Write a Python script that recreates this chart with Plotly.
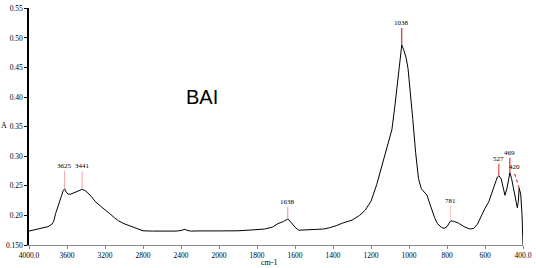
import numpy as np
import plotly.graph_objects as go

# Spectrum (wavenumber cm-1, absorbance)
wavenumber = [4000, 3900, 3800, 3760, 3740, 3720, 3700, 3680, 3660, 3640, 3625, 3610, 3590, 3560,
              3520, 3480, 3441, 3410, 3380, 3340, 3300, 3250, 3200, 3150, 3100, 3060, 3000, 2950,
              2900, 2850, 2800, 2700, 2600, 2500, 2450, 2400, 2360, 2340, 2300, 2200, 2100, 2000,
              1900, 1800, 1760, 1720, 1690, 1660, 1638, 1620, 1600, 1580, 1560, 1520, 1480, 1450,
              1420, 1380, 1350, 1300, 1260, 1230, 1200, 1170, 1140, 1110, 1090, 1075, 1060, 1048,
              1038, 1028, 1015, 1005, 995, 980, 965, 950, 935, 920, 905, 895, 880, 865, 850, 830,
              815, 800, 781, 765, 740, 710, 680, 660, 640, 620, 600, 580, 560, 545, 535, 527, 515,
              505, 495, 485, 475, 469, 460, 450, 440, 430, 425, 420, 412, 405, 400]
absorbance = [0.1735, 0.177, 0.181, 0.185, 0.190, 0.203, 0.214, 0.225, 0.232, 0.242, 0.245, 0.240,
              0.236, 0.236, 0.239, 0.242, 0.244, 0.242, 0.238, 0.231, 0.223, 0.216, 0.210, 0.203,
              0.196, 0.191, 0.186, 0.183, 0.179, 0.176, 0.174, 0.1735, 0.1732, 0.1738, 0.1735,
              0.1745, 0.1765, 0.175, 0.1735, 0.1738, 0.1735, 0.1738, 0.174, 0.176, 0.177, 0.180,
              0.186, 0.190, 0.194, 0.188, 0.180, 0.175, 0.1755, 0.176, 0.1765, 0.177, 0.179,
              0.183, 0.187, 0.192, 0.200, 0.209, 0.224, 0.252, 0.288, 0.322, 0.345, 0.383, 0.430,
              0.468, 0.488, 0.480, 0.466, 0.448, 0.416, 0.362, 0.306, 0.262, 0.245, 0.240, 0.234,
              0.224, 0.208, 0.196, 0.186, 0.180, 0.178, 0.181, 0.191, 0.190, 0.187, 0.181, 0.177,
              0.178, 0.185, 0.200, 0.212, 0.223, 0.242, 0.258, 0.265, 0.267, 0.262, 0.248, 0.234,
              0.245, 0.260, 0.272, 0.262, 0.244, 0.224, 0.213, 0.222, 0.246, 0.236, 0.200, 0.150]

# Peak labels
peaks = [3625, 3441, 1638, 1038, 781, 527, 469, 420]
peak_colors = ["#f4a6a6", "#f4a6a6", "#f08a8a", "#d40000", "#f8c4c4", "#e02020", "#e00000", "#e00000"]
peak_dx = [0, 0, 0, 0, 0, 0, 0, -5]
peak_dy = [18, 18, 12, 17, 15, 12, 15, 16]
peak_dash = ["solid"] * 7 + ["dot"]

x_ticks_hi = [4000, 3600, 3200, 2800, 2400]
x_ticks_hi_text = ["4000.0", "3600", "3200", "2800", "2400"]
x_ticks_lo = [2000, 1800, 1600, 1400, 1200, 1000, 800, 600, 400]
x_ticks_lo_text = ["2000", "1800", "1600", "1400", "1200", "1000", "800", "600", "400.0"]
y_ticks = [0.15, 0.20, 0.25, 0.30, 0.35, 0.40, 0.45, 0.50, 0.55]
y_ticks_text = ["0.150", "0.20", "0.25", "0.30", "0.35", "0.40", "0.45", "0.50", "0.55"]

SERIF = "Liberation Serif, Times New Roman, serif"

wn = np.array(wavenumber, dtype=float)
ab = np.array(absorbance, dtype=float)
hi = wn >= 2000
lo = wn <= 2000

split = 2000.0 / 5200.0
fig = go.Figure()
fig.add_trace(go.Scatter(x=wn[hi], y=ab[hi], mode="lines", line=dict(color="black", width=1),
                         xaxis="x", yaxis="y", showlegend=False))
fig.add_trace(go.Scatter(x=wn[lo], y=ab[lo], mode="lines", line=dict(color="black", width=1),
                         xaxis="x2", yaxis="y", showlegend=False))

tickfont = dict(family=SERIF, size=7.5, color="black")
order = np.argsort(wn)
for p, c, dx, dy, dash in zip(peaks, peak_colors, peak_dx, peak_dy, peak_dash):
    a = float(np.interp(p, wn[order], ab[order]))
    xr = "x" if p > 2000 else "x2"
    fig.add_shape(type="line", xref=xr, yref="y", xsizemode="pixel", ysizemode="pixel",
                  xanchor=p, yanchor=a, x0=0, y0=0, x1=dx, y1=dy,
                  line=dict(color=c, width=1, dash=dash))
    fig.add_annotation(x=p, y=a, xref=xr, yref="y", text=str(p), showarrow=False,
                       xshift=dx, yshift=dy + 5, font=dict(family=SERIF, size=7, color="black"))

fig.add_annotation(x=0.486, y=-0.1, xref="paper", yref="paper", text="cm-1", showarrow=False,
                   font=dict(family=SERIF, size=8, color="black"))
fig.add_annotation(x=-0.05, y=0.506, xref="paper", yref="paper", text="A", showarrow=False,
                   xanchor="center", font=dict(family=SERIF, size=8, color="black"))
fig.add_annotation(x=0.3145, y=0.679, xref="paper", yref="paper", text="BAI", showarrow=False,
                   font=dict(family="Liberation Sans", size=20, color="black"))

fig.update_layout(
    width=536, height=268,
    margin=dict(l=29, r=11, t=4, b=23),
    paper_bgcolor="white", plot_bgcolor="white",
    xaxis=dict(domain=[0, split], range=[4000, 2000], tickvals=x_ticks_hi, ticktext=x_ticks_hi_text,
               showgrid=False, zeroline=False, showline=True, linecolor="#888888", linewidth=1,
               ticks="outside", ticklen=3, tickcolor="#888888", tickfont=tickfont, anchor="y"),
    xaxis2=dict(domain=[split, 1], range=[2000, 400], tickvals=x_ticks_lo, ticktext=x_ticks_lo_text,
                showgrid=False, zeroline=False, showline=True, linecolor="#888888", linewidth=1,
                ticks="outside", ticklen=3, tickcolor="#888888", tickfont=tickfont, anchor="y"),
    yaxis=dict(range=[0.15, 0.5505], tickvals=y_ticks, ticktext=y_ticks_text, showgrid=False,
               zeroline=False, showline=True, linecolor="black", linewidth=1.5, ticks="outside",
               ticklen=3, tickcolor="black", tickfont=tickfont, ticklabeloverflow="allow"),
)

fig.write_html("out.html")
